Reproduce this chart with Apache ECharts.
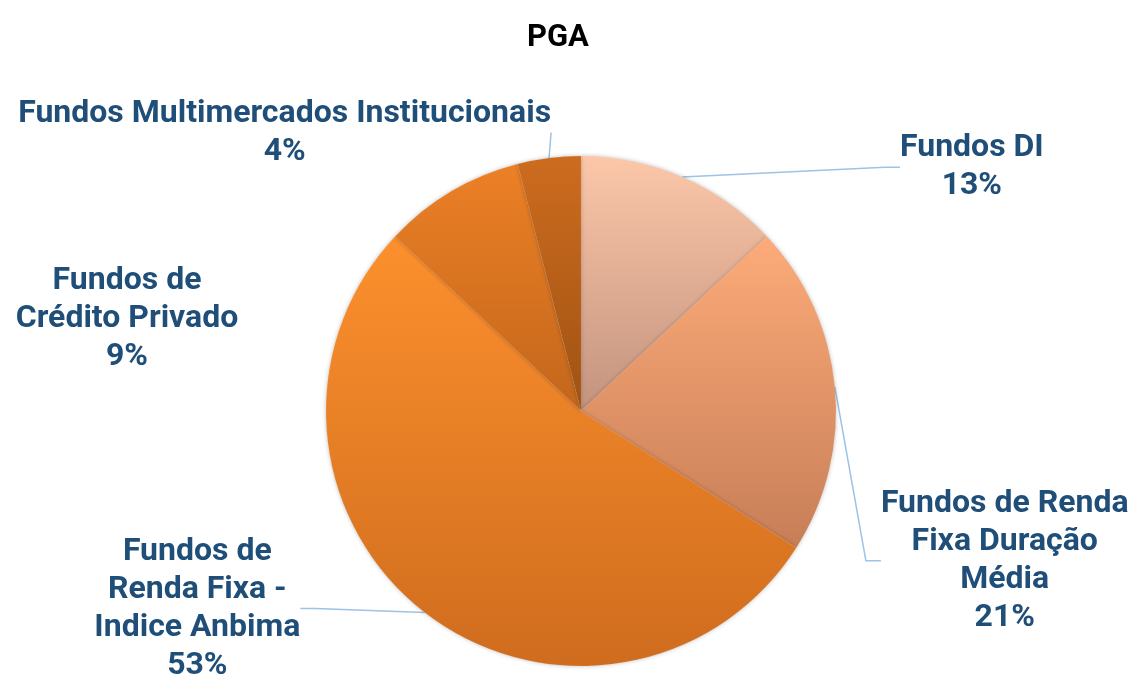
<!DOCTYPE html>
<html>
<head>
<meta charset="utf-8">
<script src="https://cdn.jsdelivr.net/npm/echarts@6/dist/echarts.min.js"></script>
<style>html,body{margin:0;padding:0;background:#fff}#c{width:1134px;height:683px}</style>
</head>
<body>
<div id="c"></div>
<script>
const title = 'PGA';
const categories = ['Fundos DI', 'Fundos de Renda Fixa Duração Média', 'Fundos de Renda Fixa - Indice Anbima', 'Fundos de Crédito Privado', 'Fundos Multimercados Institucionais'];
const labelLines = ['Fundos DI', 'Fundos de Renda\nFixa Duração\nMédia', 'Fundos de\nRenda Fixa -\nIndice Anbima', 'Fundos de\nCrédito Privado', 'Fundos Multimercados Institucionais'];
const values = [13, 21, 53, 9, 4];
const topColors = ['#FCC7A9', '#FDAB79', '#FC902D', '#EC8026', '#CD6C1F'];
const bottomColors = ['#C3937E', '#C77E57', '#CF6C1E', '#C3661B', '#A05212'];
// label block centres (fractions of chart width/height)
const labelPos = [[0.857, 0.245], [0.886, 0.821], [0.174, 0.891], [0.112, 0.467], [0.251, 0.194]];
const showLine = [true, true, true, false, true];

const chart = echarts.init(document.getElementById('c'));
const W = 1134, H = 683;
chart.setOption({
  backgroundColor: '#fff',
  title: {
    text: title, left: 522, top: 18,
    textStyle: {fontFamily: 'Roboto', fontWeight: 'bold', fontSize: 31, color: '#000'}
  },
  series: [{
    type: 'pie',
    center: [581, 411],
    radius: 255,
    startAngle: 90,
    clockwise: true,
    animation: false,
    itemStyle: {shadowBlur: 4, shadowColor: 'rgba(0,0,0,0.25)', borderColor: 'rgba(255,255,255,0.12)', borderWidth: 0.5},
    label: {
      show: true,
      position: 'outside',
      overflow: 'none',
      fontFamily: 'Roboto', fontWeight: 'bold', fontSize: 32, lineHeight: 38,
      color: '#1F4E79', align: 'center',
      formatter: p => labelLines[p.dataIndex] + '\n' + Math.round(p.percent) + '%'
    },
    labelLine: {show: true, length: 20, length2: 15, lineStyle: {color: '#9DC3E6', width: 1.5}},
    labelLayout: p => ({
      x: labelPos[p.dataIndex][0] * W,
      y: labelPos[p.dataIndex][1] * H,
      align: 'center', verticalAlign: 'middle'
    }),
    data: values.map((v, i) => ({
      name: categories[i], value: v,
      labelLine: {show: showLine[i]},
      itemStyle: {color: new echarts.graphic.LinearGradient(0, 0, 0, 1, [
        {offset: 0, color: topColors[i]}, {offset: 1, color: bottomColors[i]}])}
    }))
  }]
});
</script>
</body>
</html>
